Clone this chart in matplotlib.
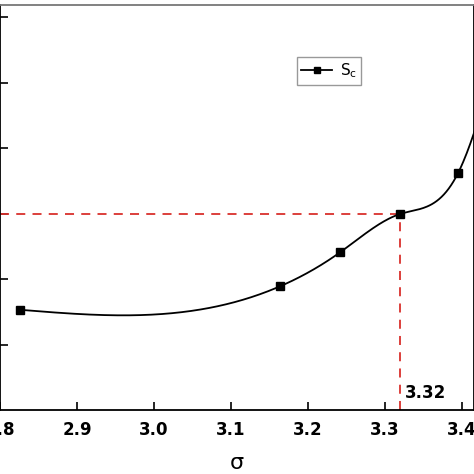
import numpy as np
import matplotlib
matplotlib.use("Agg")
import matplotlib.pyplot as plt

sigma = [2.826, 3.164, 3.242, 3.319, 3.395, 3.45]
sc = [1.53, 1.89, 2.41, 2.99, 3.62, 5.6]
xticks = [2.8, 2.9, 3.0, 3.1, 3.2, 3.3, 3.4]
xmark = 3.32
ymark = 2.99

def natural_spline(x, y, xs):
    x = np.asarray(x, float); y = np.asarray(y, float)
    n = len(x); h = np.diff(x)
    A = np.zeros((n, n)); b = np.zeros(n)
    A[0, 0] = A[-1, -1] = 1
    for i in range(1, n - 1):
        A[i, i - 1] = h[i - 1]; A[i, i] = 2 * (h[i - 1] + h[i]); A[i, i + 1] = h[i]
        b[i] = 3 * ((y[i + 1] - y[i]) / h[i] - (y[i] - y[i - 1]) / h[i - 1])
    c = np.linalg.solve(A, b)
    out = []
    for t in xs:
        i = min(max(np.searchsorted(x, t) - 1, 0), n - 2)
        d = t - x[i]
        bb = (y[i + 1] - y[i]) / h[i] - h[i] * (2 * c[i] + c[i + 1]) / 3
        dd = (c[i + 1] - c[i]) / (3 * h[i])
        out.append(y[i] + bb * d + c[i] * d ** 2 + dd * d ** 3)
    return np.array(out)

fig = plt.figure(figsize=(4.74, 4.74), dpi=100)
ax = fig.add_axes([0.0, 1 - 410 / 474, 1.0, 405 / 474])
xs = np.linspace(sigma[0], sigma[-1], 400)
ax.plot(xs, natural_spline(sigma, sc, xs), color="black", lw=1.3, zorder=3)
ax.plot(sigma, sc, ls="none", marker="s", ms=6, color="black", zorder=4)
ax.plot([], [], color="black", lw=1.3, marker="s", ms=5, label="S$_\\mathregular{c}$")
ax.plot([2.8, xmark], [ymark, ymark], ls=(0, (5, 4)), color="#d9302c", lw=1.3, zorder=2)
ax.plot([xmark, xmark], [0, ymark], ls=(0, (5, 4)), color="#d9302c", lw=1.3, zorder=2)
ax.text(xmark + 0.006, 0.12, "3.32", fontsize=12, fontweight="bold", ha="left", va="bottom")
ax.set_xlim(2.8, 2.8 + 474 / 770)
ax.set_ylim(0, 405 / 65.5)
ax.set_xticks(xticks)
ax.set_xticklabels([f"{t:.1f}" for t in xticks], fontsize=12, fontweight="bold")
ax.set_yticks([1, 2, 3, 4, 5, 6])
ax.set_yticklabels([])
ax.tick_params(direction="in", length=6, width=1.2)
ax.tick_params(axis="x", pad=8)
ax.set_xlabel("σ", fontsize=16, labelpad=10)
for s in ax.spines.values():
    s.set_linewidth(1.3)
ax.spines["top"].set_color("#777777")
ax.legend(loc="upper left", bbox_to_anchor=(0.61, 0.89), fontsize=11, handlelength=2.0,
          borderpad=0.3, handletextpad=0.5, fancybox=False, edgecolor="#999999", framealpha=1)
fig.savefig("out.png", dpi=100)
